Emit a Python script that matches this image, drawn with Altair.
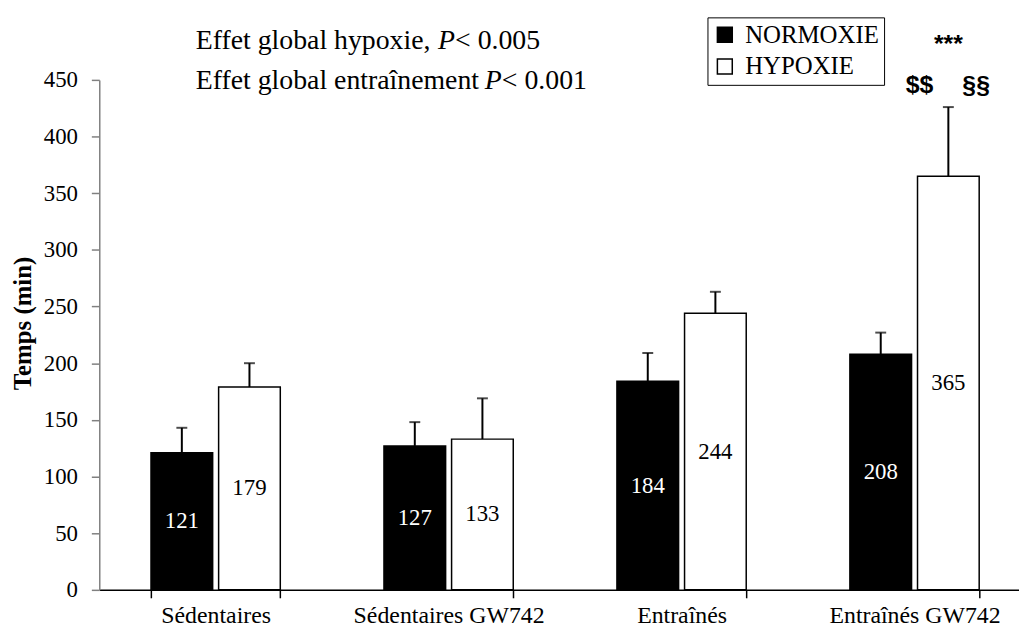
import altair as alt
import pandas as pd

# ---- data ----
groups = ["Sédentaires", "Sédentaires GW742", "Entraînés", "Entraînés GW742"]
conditions = ["NORMOXIE", "HYPOXIE"]
normoxie = [121, 127, 184, 208]
hypoxie = [179, 133, 244, 365]
normoxie_err = [22, 21, 25, 19]
hypoxie_err = [21, 36, 19, 61]
y_ticks = [0, 50, 100, 150, 200, 250, 300, 350, 400, 450]

rows = []
for i, g in enumerate(groups):
    rows.append(dict(group=g, cond="NORMOXIE", value=normoxie[i], err=normoxie_err[i]))
    rows.append(dict(group=g, cond="HYPOXIE", value=hypoxie[i], err=hypoxie_err[i]))
df = pd.DataFrame(rows)

SERIF = "Liberation Serif"
SANS = "Liberation Sans"

x_scale = alt.Scale(domain=groups, range=[0, 939], paddingInner=0.445, paddingOuter=0.222)
x_axis = alt.Axis(title=None, labelAngle=0, tickBand="extent", labelFontSize=24, labelFont=SERIF,
                  labelColor="black", labelPadding=6, labelLimit=0, tickSize=8, tickColor="black",
                  tickWidth=1.5, domainColor="black", domainWidth=1.5, grid=False)
y_scale = alt.Scale(domain=[0, 450], nice=False, zero=True)
y_axis = alt.Axis(values=y_ticks, grid=False, labelFontSize=23, labelFont=SERIF, labelColor="black",
                  labelPadding=14, tickSize=8, tickColor="#808080", tickWidth=1.5,
                  domainColor="#808080", domainWidth=1.5,
                  titleFont=SERIF, titleFontSize=25, titleFontWeight="bold", titleColor="black",
                  titleX=-77, titleY=245, titleAlign="center", titleBaseline="middle", titleAngle=-90)
TITLE = "Temps (min)"


def X():
    return alt.X("group:N", sort=groups, scale=x_scale, axis=x_axis)


def Y(field):
    return alt.Y(field, scale=y_scale, axis=y_axis, title=TITLE)


xoff = alt.XOffset("cond:N", sort=conditions,
                   scale=alt.Scale(domain=conditions, paddingInner=0.088, paddingOuter=0))

base = alt.Chart(df).transform_calculate(
    upper="datum.value + datum.err", mid="datum.value / 2"
).encode(x=X(), xOffset=xoff)

err_rule = base.mark_rule(color="black", strokeWidth=2).encode(y=Y("value:Q"), y2="upper:Q")
err_cap = base.mark_tick(color="black", thickness=2, size=11, orient="horizontal").encode(y=Y("upper:Q"))

bars = base.mark_bar(stroke="black", strokeWidth=1.5).encode(
    y=Y("value:Q"),
    fill=alt.Fill("cond:N", scale=alt.Scale(domain=conditions, range=["black", "white"]),
                  legend=alt.Legend(title=None, orient="none", legendX=613, legendY=-63,
                                    symbolType="square", symbolSize=225, symbolStrokeColor="black",
                                    symbolStrokeWidth=1.5, labelFontSize=25, labelFont=SERIF,
                                    labelColor="black", strokeColor="black", padding=5,
                                    rowPadding=6, labelOffset=8, direction="vertical")),
)

labels = base.mark_text(fontSize=23, font=SERIF, baseline="middle").encode(
    y=Y("mid:Q"), text="value:Q",
    color=alt.Color("cond:N", scale=alt.Scale(domain=conditions, range=["white", "black"]), legend=None),
)

# ---- annotations ----
annos = []
stat_y = {"***": 475, "$$": 438, "§§": 438}
stat_dx = {"***": 0, "$$": -29, "§§": 28}
for lab in ["***", "$$", "§§"]:
    d = pd.DataFrame({"group": [groups[3]], "cond": ["HYPOXIE"], "y": [stat_y[lab]], "t": [lab]})
    annos.append(
        alt.Chart(d).mark_text(font=SANS, fontSize=25, fontWeight="bold", baseline="alphabetic",
                               dx=stat_dx[lab], color="black")
        .encode(x=X(), xOffset=xoff, y=Y("y:Q"), text="t:N")
    )

effet_lines = [
    ("Effet global hypoxie, ", "< 0.005", 477),
    ("Effet global entraînement ", "< 0.001", 442),
]
FS = 28
for pre, post, yv in effet_lines:
    d = pd.DataFrame({"group": [groups[0]], "y": [yv], "a": [pre], "p": ["P"], "b": [post]})
    # width of the prefix in Times-metric em units
    w_em = {"Effet global hypoxie, ": 8.721, "Effet global entraînement ": 10.405}[pre]
    dx0 = -20
    dx1 = dx0 + w_em * FS
    dx2 = dx1 + 0.611 * FS
    for field, dx, style in [("a", dx0, "normal"), ("p", dx1, "italic"), ("b", dx2, "normal")]:
        annos.append(
            alt.Chart(d).mark_text(font=SERIF, fontSize=FS, fontStyle=style, align="left",
                                   baseline="alphabetic", dx=dx, color="black")
            .encode(x=X(), y=Y("y:Q"), text=f"{field}:N")
        )

chart = alt.layer(err_rule, err_cap, bars, labels, *annos).properties(
    width=927, height=514,
    padding={"left": 92, "top": 70, "right": 0, "bottom": 36},
    autosize=alt.AutoSizeParams(type="none"),
    background="white",
).configure(font=SERIF).configure_view(stroke=None)

chart.save("out.html", embed_options={"renderer": "svg", "actions": False})
